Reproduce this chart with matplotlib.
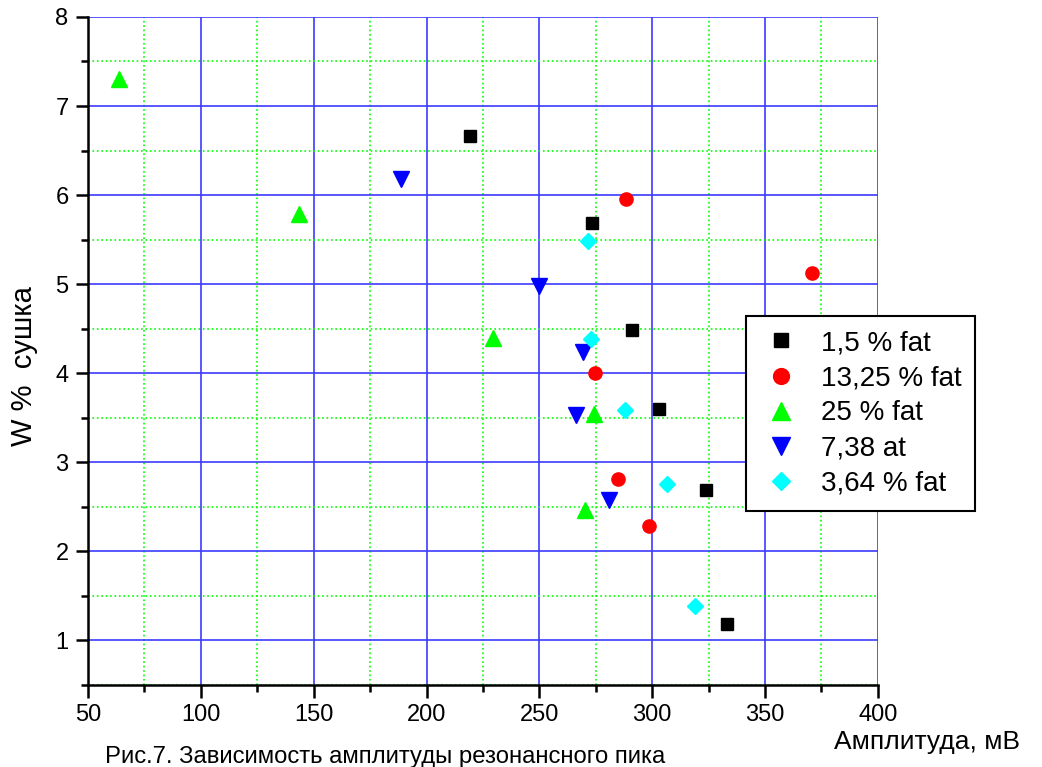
import matplotlib
matplotlib.use('Agg')
import matplotlib.pyplot as plt
from matplotlib.ticker import MultipleLocator

plt.rcParams['font.family'] = ['Liberation Sans', 'DejaVu Sans']

# 1,5 % fat
x_15 = [219.2, 273.2, 291.0, 302.8, 323.8, 333.0]
y_15 = [6.66, 5.69, 4.48, 3.60, 2.69, 1.19]
# 13,25 % fat
x_1325 = [288.4, 370.6, 274.8, 285.0, 298.4]
y_1325 = [5.96, 5.13, 4.00, 2.81, 2.29]
# 25 % fat
x_25 = [63.7, 143.5, 229.4, 274.3, 270.2]
y_25 = [7.30, 5.79, 4.40, 3.54, 2.46]
# 7,38 at
x_738 = [188.5, 249.8, 269.3, 266.1, 281.0]
y_738 = [6.18, 4.98, 4.24, 3.53, 2.58]
# 3,64 % fat
x_364 = [271.7, 272.7, 287.8, 306.4, 318.9]
y_364 = [5.48, 4.38, 3.59, 2.76, 1.39]

fig = plt.figure(figsize=(10.42, 7.67), dpi=100)
ax = fig.add_axes([0.0845, 0.1069, 0.758, 0.871])

ax.plot(x_15, y_15, 's', color='black', markersize=8.5, label='1,5 % fat', zorder=3)
ax.plot(x_1325, y_1325, 'o', color='red', markersize=9.5, label='13,25 % fat', zorder=3)
ax.plot(x_25, y_25, '^', color='#00ff00', markersize=11, label='25 % fat', zorder=3)
ax.plot(x_738, y_738, 'v', color='blue', markersize=11, label='7,38 at', zorder=3)
ax.plot(x_364, y_364, 'D', color='cyan', markersize=8, label='3,64 % fat', zorder=3)

ax.set_xlim(50, 400)
ax.set_ylim(0.5, 8)
ax.xaxis.set_major_locator(MultipleLocator(50))
ax.xaxis.set_minor_locator(MultipleLocator(25))
ax.yaxis.set_major_locator(MultipleLocator(1))
ax.yaxis.set_minor_locator(MultipleLocator(0.5))

ax.grid(True, which='major', color='#3b3bff', linewidth=1.2, zorder=1)
ax.grid(True, which='minor', color='#00ff00', linestyle=':', linewidth=1.2, zorder=1)
ax.set_axisbelow(True)

for s in ['top', 'right']:
    ax.spines[s].set_visible(False)
for s in ['left', 'bottom']:
    ax.spines[s].set_linewidth(1.8)

ax.tick_params(which='major', direction='out', length=9, width=1.8, labelsize=17, pad=5)
ax.tick_params(which='minor', direction='out', length=5, width=1.8)

fig.text(24 / 1042, (767 - 366) / 767, 'W %  сушка', fontsize=21, rotation=90,
         ha='center', va='center')
fig.text(927 / 1042, (767 - 742) / 767, 'Амплитуда, мВ', fontsize=19, ha='center', va='center')
fig.text(105 / 1042, (767 - 746) / 767, 'Рис.7. Зависимость амплитуды резонансного пика',
         fontsize=17.2, ha='left', va='top')

leg = ax.legend(loc='upper left', bbox_to_anchor=(0.833, 0.552), fontsize=20,
                frameon=True, fancybox=False, edgecolor='black', framealpha=1,
                handletextpad=0.7, labelspacing=0.33, borderpad=0.5, markerscale=1.2,
                handlelength=1.5, borderaxespad=0)
leg.get_frame().set_linewidth(1.5)

fig.savefig('out.png', dpi=100)
